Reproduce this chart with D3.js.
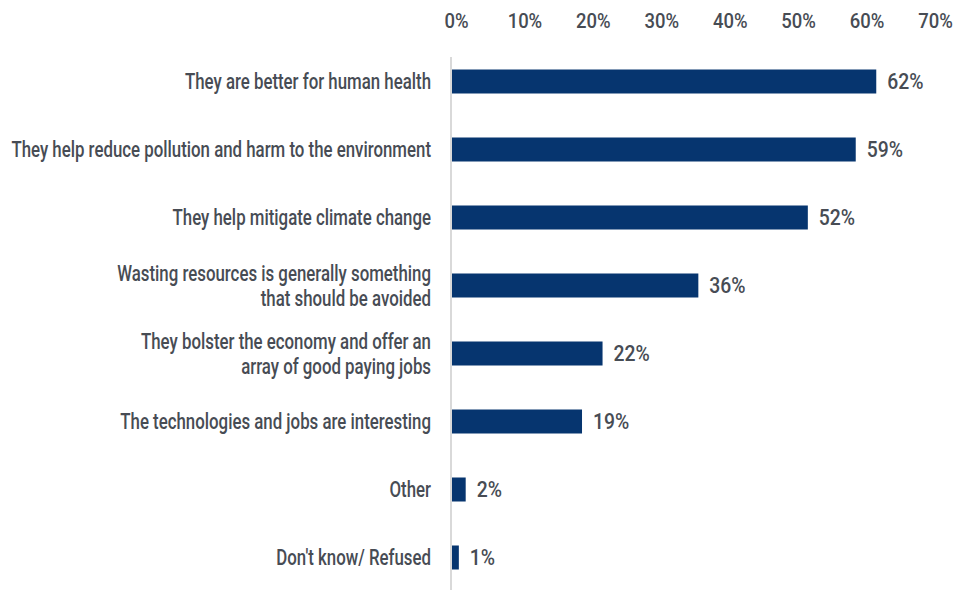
<!DOCTYPE html>
<html>
<head>
<meta charset="utf-8">
<script src="https://cdn.jsdelivr.net/npm/d3@7"></script>
<style>
  html, body { margin: 0; padding: 0; background: #ffffff; }
  svg text { font-family: Roboto, "Noto Sans", sans-serif; font-weight: 500; }
</style>
</head>
<body>
<svg id="chart" width="967" height="590"></svg>
<script>
// Reasons given, share of respondents (%)
const categories = [
  ["They are better for human health"],
  ["They help reduce pollution and harm to the environment"],
  ["They help mitigate climate change"],
  ["Wasting resources is generally something", "that should be avoided"],
  ["They bolster the economy and offer an", "array of good paying jobs"],
  ["The technologies and jobs are interesting"],
  ["Other"],
  ["Don't know/ Refused"]
];
const values = [62, 59, 52, 36, 22, 19, 2, 1];
const tickValues = [0, 10, 20, 30, 40, 50, 60, 70];
const tickLabels = ["0%", "10%", "20%", "30%", "40%", "50%", "60%", "70%"];

const svg = d3.select("#chart");
const barColor = "#06356f";
const textColor = "#474c54";

// Condensed look: text is squeezed horizontally
const catSx = 0.765;
const numSx = 0.88;

const x = d3.scaleLinear().domain([0, 70]).range([452, 931]);
const y = d3.scalePoint().domain(d3.range(values.length)).range([81.5, 557.5]);
const barH = 24;

// Top axis: labels only
const axis = d3.axisTop(x)
  .tickValues(tickValues)
  .tickSize(0)
  .tickPadding(0)
  .tickFormat((d, i) => tickLabels[i]);

const gAxis = svg.append("g")
  .attr("transform", "translate(4,28)")
  .call(axis);
gAxis.select(".domain").remove();
gAxis.selectAll("text")
  .attr("dy", 0)
  .attr("fill", textColor)
  .attr("transform", `scale(${numSx},1)`)
  .style("font-size", "21px")
  .style("font-family", "Roboto, 'Noto Sans', sans-serif");

// Vertical baseline
svg.append("line")
  .attr("x1", x(0) - 1).attr("x2", x(0) - 1)
  .attr("y1", 57).attr("y2", 590)
  .attr("stroke", "#d9d9d9")
  .attr("stroke-width", 2);

// Bars
svg.append("g").selectAll("rect")
  .data(values)
  .join("rect")
  .attr("x", x(0))
  .attr("y", (d, i) => y(i) - barH / 2)
  .attr("width", d => x(d) - x(0))
  .attr("height", barH)
  .attr("fill", barColor);

// Value labels
svg.append("g").selectAll("text")
  .data(values)
  .join("text")
  .attr("transform", (d, i) => `translate(${x(d) + 11},${y(i)}) scale(${numSx},1)`)
  .attr("dy", "0.36em")
  .attr("fill", textColor)
  .style("font-size", "22px")
  .text(d => d + "%");

// Category labels (right aligned, multi-line where needed)
const lineH = 25;
const labelRight = 431;
svg.append("g").selectAll("text")
  .data(categories)
  .join("text")
  .attr("text-anchor", "end")
  .attr("fill", textColor)
  .style("font-size", "22px")
  .attr("transform", (d, i) => `translate(${labelRight},${y(i) - (d.length - 1) * lineH / 2}) scale(${catSx},1)`)
  .each(function(lines) {
    const t = d3.select(this);
    lines.forEach((ln, k) => {
      t.append("tspan")
        .attr("x", 0)
        .attr("y", k * lineH)
        .attr("dy", "0.36em")
        .text(ln);
    });
  });
</script>
</body>
</html>
